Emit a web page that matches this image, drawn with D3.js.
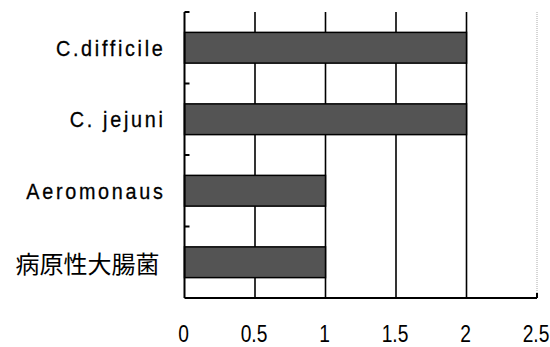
<!DOCTYPE html>
<html><head><meta charset="utf-8">
<script src="https://cdn.jsdelivr.net/npm/d3@7"></script>
<style>body{margin:0;background:#fff}svg{display:block}</style>
</head><body>
<script>
const categories = ["C.difficile", "C. jejuni", "Aeromonaus", "病原性大腸菌"];
const values = [2, 2, 1, 1];
const xTicks = [0, 0.5, 1, 1.5, 2, 2.5];
const xTickLabels = ["0", "0.5", "1", "1.5", "2", "2.5"];

const W = 550, H = 347;
const m = {left: 184.5, right: 13, top: 12, bottom: 49};
const svg = d3.select("body").append("svg").attr("width", W).attr("height", H);

const x = d3.scaleLinear().domain([0, 2.5]).range([m.left, W - m.right]);
const y = d3.scaleBand().domain(categories).range([m.top, H - m.bottom]).paddingInner(0.57).paddingOuter(0.285);
const yb = d3.scaleBand().domain(categories).range([m.top, H - m.bottom]);

// gridlines
svg.append("g").selectAll("line").data(xTicks.filter(t => t > 0 && t < 2.5)).join("line")
  .attr("x1", d => x(d)).attr("x2", d => x(d))
  .attr("y1", m.top).attr("y2", H - m.bottom)
  .attr("stroke", "#000").attr("stroke-width", 1.6);
svg.append("line").attr("x1", x(2.5)).attr("x2", x(2.5))
  .attr("y1", m.top).attr("y2", H - m.bottom)
  .attr("stroke", "#aaa").attr("stroke-width", 1).attr("stroke-dasharray", "1,1");

// bars
svg.append("g").selectAll("rect").data(values).join("rect")
  .attr("x", x(0)).attr("y", (d, i) => y(categories[i]))
  .attr("width", d => x(d) - x(0)).attr("height", y.bandwidth())
  .attr("fill", "#545454").attr("stroke", "#000").attr("stroke-width", 1.5);

// y axis
const yAxis = svg.append("g");
yAxis.append("line").attr("x1", x(0)).attr("x2", x(0)).attr("y1", m.top).attr("y2", H - m.bottom)
  .attr("stroke", "#000").attr("stroke-width", 2);
const bounds = categories.map(c => yb(c));
yAxis.selectAll("line.t").data(bounds).join("line").attr("class", "t")
  .attr("x1", x(0)).attr("x2", x(0) + 5).attr("y1", d => d).attr("y2", d => d)
  .attr("stroke", "#000").attr("stroke-width", 2);
yAxis.selectAll("text").data(categories).join("text")
  .attr("transform", d => {
    const cjk = /[\u4e00-\u9fff]/.test(d);
    const ty = yb(d) + yb.bandwidth() / 2;
    return cjk ? `translate(${x(0) - 25},${ty})` : `translate(${x(0) - 19},${ty}) scale(0.9,1)`;
  })
  .attr("text-anchor", "end").attr("dominant-baseline", "central")
  .attr("font-family", d => /[\u4e00-\u9fff]/.test(d) ? "'Noto Sans CJK JP',sans-serif" : "'Liberation Sans',sans-serif")
  .attr("font-size", d => /[\u4e00-\u9fff]/.test(d) ? 24 : 22)
  .attr("letter-spacing", d => /[\u4e00-\u9fff]/.test(d) ? 0 : 3)
  .attr("stroke", "#000").attr("stroke-width", d => /[\u4e00-\u9fff]/.test(d) ? 0 : 0.3)
  .attr("fill", "#000")
  .text(d => d);

// x axis
const xAxis = svg.append("g");
xAxis.append("line").attr("x1", x(0)).attr("x2", x(2.5)).attr("y1", H - m.bottom).attr("y2", H - m.bottom)
  .attr("stroke", "#000").attr("stroke-width", 2);
xAxis.append("line").attr("x1", x(2.5)).attr("x2", x(2.5)).attr("y1", H - m.bottom).attr("y2", H - m.bottom - 5)
  .attr("stroke", "#000").attr("stroke-width", 2);
xAxis.selectAll("text").data(xTicks).join("text")
  .attr("transform", d => `translate(${x(d) - 1},342) scale(0.8,1)`)
  .attr("text-anchor", "middle")
  .attr("font-family", "'Liberation Sans',sans-serif")
  .attr("font-size", 24).attr("fill", "#000")
  .text((d, i) => xTickLabels[i]);
</script>
</body></html>
